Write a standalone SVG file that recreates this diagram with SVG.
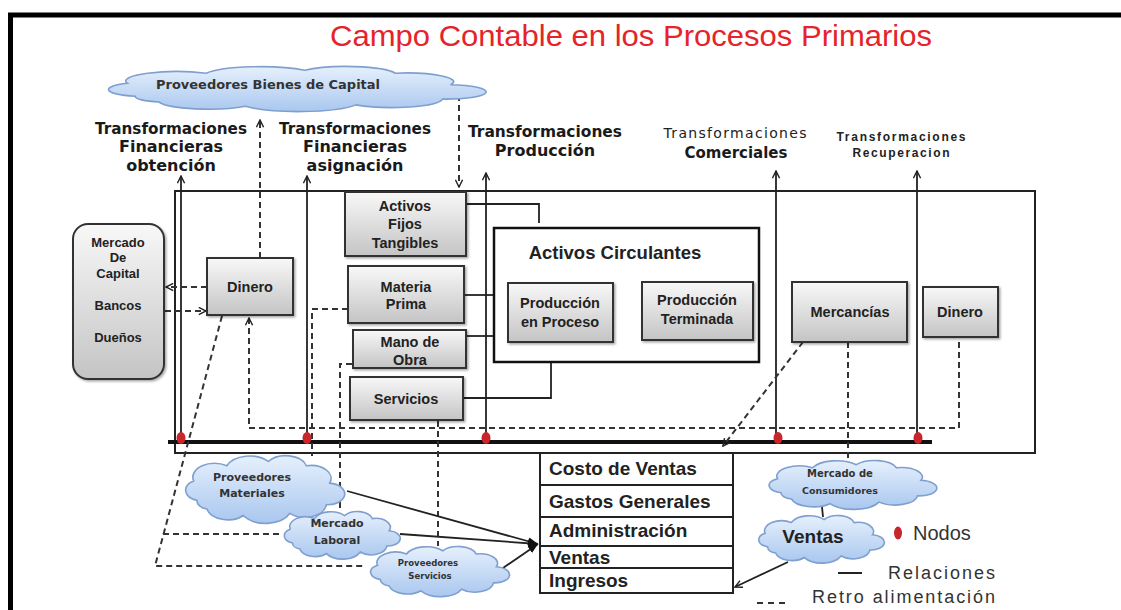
<svg xmlns="http://www.w3.org/2000/svg" xmlns:xlink="http://www.w3.org/1999/xlink" width="1121" height="610" viewBox="0 0 1121 610">
<style>
.frame{fill:none;stroke:#000;stroke-width:5}
.box{fill:url(#gBox);stroke:#333;stroke-width:2;filter:url(#sh)}
.cloud{fill:url(#gCloud);stroke:#7f9fcf;stroke-width:1.6}
.sol{fill:none;stroke:#222;stroke-width:1.8}
.dash{fill:none;stroke:#333;stroke-width:2;stroke-dasharray:6 4}
.node{fill:#c8262b}
.bl{font-family:"Liberation Sans",Arial,sans-serif;font-weight:bold;font-size:14.5px;fill:#222;text-anchor:middle}
.hd{font-family:"DejaVu Sans",Verdana,sans-serif;font-weight:bold;font-size:16px;fill:#1a1a1a;text-anchor:middle}
.cl{font-family:"DejaVu Sans",Verdana,sans-serif;font-weight:bold;font-size:11px;fill:#333;text-anchor:middle}
.tb{font-family:"Liberation Sans",Arial,sans-serif;font-weight:bold;font-size:19px;fill:#222}
.lg{font-family:"Liberation Sans",Arial,sans-serif;font-size:18px;fill:#333}
</style>
<defs>
<linearGradient id="gBox" x1="0" y1="0" x2="0" y2="1"><stop offset="0" stop-color="#f8f8f8"/><stop offset="1" stop-color="#c4c4c4"/></linearGradient>
<linearGradient id="gCloud" x1="0" y1="0" x2="0" y2="1"><stop offset="0" stop-color="#e6f0fc"/><stop offset="1" stop-color="#a9c7ef"/></linearGradient>
<filter id="sh" x="-10%" y="-10%" width="130%" height="130%"><feDropShadow dx="1.5" dy="1.5" stdDeviation="1" flood-opacity="0.35"/></filter>
<path id="cloudShape" vector-effect="non-scaling-stroke" d="M12,42 A10,10 0 0 1 10,24 A13,13 0 0 1 30,10 A15,15 0 0 1 55,6 A13,13 0 0 1 78,10 A12,12 0 0 1 92,26 A10,10 0 0 1 90,46 A13,13 0 0 1 68,54 A16,16 0 0 1 40,56 A13,13 0 0 1 18,50 A8,8 0 0 1 12,42 Z"/>
<marker id="arr" viewBox="0 0 10 10" refX="9" refY="5" markerWidth="9" markerHeight="9" markerUnits="userSpaceOnUse" orient="auto"><path d="M1,1 L9,5 L1,9" fill="none" stroke="#222" stroke-width="1.6"/></marker>
<marker id="arrF" viewBox="0 0 10 10" refX="10" refY="5" markerWidth="10" markerHeight="10" markerUnits="userSpaceOnUse" orient="auto"><path d="M0,1 L10,5 L0,9 Z" fill="#111"/></marker>
</defs>

<rect width="1121" height="610" fill="#fff"/>
<path class="frame" d="M10.5,615 V15 H1125"/>
<text x="631" y="46" font-family="'Liberation Sans',Arial,sans-serif" font-size="29" fill="#e5232a" text-anchor="middle" textLength="602" lengthAdjust="spacingAndGlyphs">Campo Contable en los Procesos Primarios</text>

<g id="labels">
<text class="hd" x="171" y="134" textLength="152" lengthAdjust="spacingAndGlyphs">Transformaciones</text>
<text class="hd" x="171" y="152">Financieras</text>
<text class="hd" x="171" y="171">obtención</text>
<text class="hd" x="355" y="134" textLength="152" lengthAdjust="spacingAndGlyphs">Transformaciones</text>
<text class="hd" x="355" y="152">Financieras</text>
<text class="hd" x="355" y="171">asignación</text>
<text class="hd" x="545" y="137" textLength="154" lengthAdjust="spacingAndGlyphs">Transformaciones</text>
<text class="hd" x="545" y="156">Producción</text>
<text x="735" y="138" font-family="'DejaVu Sans',Verdana,sans-serif" font-size="14" fill="#222" text-anchor="middle" textLength="143" lengthAdjust="spacing">Transformaciones</text>
<text class="hd" x="736" y="158" style="font-size:15px">Comerciales</text>
<text x="901" y="141" font-family="'Liberation Sans',Arial,sans-serif" font-weight="bold" font-size="12" fill="#222" text-anchor="middle" textLength="129" lengthAdjust="spacing">Transformaciones</text>
<text x="901" y="157" font-family="'Liberation Sans',Arial,sans-serif" font-weight="bold" font-size="12" fill="#222" text-anchor="middle" textLength="97" lengthAdjust="spacing">Recuperacion</text>
</g>

<g id="main-frame">
<rect x="175" y="191" width="860" height="262" fill="none" stroke="#222" stroke-width="2"/>
</g>

<g id="connectors">
<line x1="168" y1="442" x2="932" y2="442" stroke="#111" stroke-width="4"/>
<line class="sol" x1="181" y1="442" x2="181" y2="176" marker-end="url(#arr)"/>
<line class="sol" x1="307" y1="442" x2="307" y2="176" marker-end="url(#arr)"/>
<line class="sol" x1="486" y1="442" x2="486" y2="173" marker-end="url(#arr)"/>
<line class="sol" x1="776" y1="442" x2="776" y2="171" marker-end="url(#arr)"/>
<line class="sol" x1="917" y1="442" x2="917" y2="171" marker-end="url(#arr)"/>

<polyline class="sol" points="466,204 539,204 539,223"/>
<line class="sol" x1="464" y1="295" x2="494" y2="295"/>
<line class="sol" x1="466" y1="336" x2="494" y2="336"/>
<polyline class="sol" points="463,398 551,398 551,362"/>
<line class="sol" x1="613" y1="313" x2="642" y2="312"/>

<line class="dash" x1="260" y1="258" x2="260" y2="120" marker-end="url(#arr)"/>
<line class="dash" x1="459" y1="95" x2="459" y2="187" marker-end="url(#arr)"/>
<line class="dash" x1="207" y1="287" x2="166" y2="287" marker-end="url(#arr)"/>
<line class="dash" x1="165" y1="311" x2="206" y2="311" marker-end="url(#arr)"/>
<polyline class="dash" points="222,316 155,566 365,566"/>
<line class="dash" x1="163" y1="534" x2="280" y2="534"/>
<polyline class="dash" points="959,342 959,428 249,428 249,318" marker-end="url(#arr)"/>
<polyline class="dash" points="348,309 312,309 312,456"/>
<polyline class="dash" points="352,364 340,364 340,512"/>
<line class="dash" x1="438" y1="421" x2="438" y2="546"/>
<line class="dash" x1="848" y1="342" x2="848" y2="462"/>
<line class="dash" x1="803" y1="342" x2="723" y2="446" marker-end="url(#arr)"/>

<line class="sol" x1="347" y1="491" x2="538" y2="544" marker-end="url(#arrF)"/>
<line class="sol" x1="400" y1="534" x2="538" y2="544" marker-end="url(#arrF)"/>
<line class="sol" x1="503" y1="568" x2="538" y2="544" marker-end="url(#arrF)"/>
<line class="sol" x1="788" y1="562" x2="735" y2="587" marker-end="url(#arr)"/>
<line class="sol" x1="822" y1="507" x2="823" y2="517"/>
</g>

<g id="node-dots">
<ellipse class="node" cx="181" cy="438" rx="4.5" ry="6"/>
<ellipse class="node" cx="307" cy="438" rx="4.5" ry="6"/>
<ellipse class="node" cx="486" cy="438" rx="4.5" ry="6"/>
<ellipse class="node" cx="778" cy="438" rx="4.5" ry="6"/>
<ellipse class="node" cx="918" cy="438" rx="4.5" ry="6"/>
</g>

<g id="cloud-bienes-capital">
<use href="#cloudShape" class="cloud" transform="translate(88,66) scale(3.94,0.72)"/>
<text class="cl" x="268" y="89" style="font-size:12.5px" textLength="224" lengthAdjust="spacingAndGlyphs">Proveedores Bienes de Capital</text>
</g>

<g id="mercado-capital">
<rect x="73" y="224" width="91" height="155" rx="15" class="box"/>
<text class="bl" x="118" y="247" style="font-size:13px">Mercado</text>
<text class="bl" x="118" y="262" style="font-size:13px">De</text>
<text class="bl" x="118" y="278" style="font-size:13px">Capital</text>
<text class="bl" x="118" y="310" style="font-size:13px">Bancos</text>
<text class="bl" x="118" y="342" style="font-size:13px">Dueños</text>
</g>

<g id="dinero-1">
<rect x="207" y="258" width="86" height="57" class="box"/>
<text class="bl" x="250" y="292">Dinero</text>
</g>

<g id="activos-fijos">
<rect x="345" y="192" width="121" height="64" class="box"/>
<text class="bl" x="405" y="211">Activos</text>
<text class="bl" x="405" y="229">Fijos</text>
<text class="bl" x="405" y="248">Tangibles</text>
</g>

<g id="materia-prima">
<rect x="348" y="266" width="116" height="57" class="box"/>
<text class="bl" x="406" y="292">Materia</text>
<text class="bl" x="406" y="309">Prima</text>
</g>

<g id="mano-obra">
<rect x="353" y="330" width="113" height="38" class="box"/>
<text class="bl" x="410" y="347">Mano de</text>
<text class="bl" x="410" y="365">Obra</text>
</g>

<g id="servicios">
<rect x="350" y="377" width="113" height="43" class="box"/>
<text class="bl" x="406" y="404">Servicios</text>
</g>

<g id="activos-circulantes">
<rect x="494" y="228" width="265" height="134" fill="#fff" stroke="#111" stroke-width="2.5"/>
<text x="615" y="259" font-family="'Liberation Sans',Arial,sans-serif" font-weight="bold" font-size="18.5" fill="#222" text-anchor="middle">Activos Circulantes</text>
</g>

<g id="produccion-proceso">
<rect x="508" y="283" width="105" height="59" class="box"/>
<text class="bl" x="560" y="308">Producción</text>
<text class="bl" x="560" y="327">en Proceso</text>
</g>

<g id="produccion-terminada">
<rect x="642" y="282" width="111" height="58" class="box"/>
<text class="bl" x="697" y="305">Producción</text>
<text class="bl" x="697" y="324">Terminada</text>
</g>

<g id="mercancias">
<rect x="792" y="282" width="115" height="60" class="box"/>
<text class="bl" x="850" y="317">Mercancías</text>
</g>

<g id="dinero-2">
<rect x="923" y="287" width="75" height="50" class="box"/>
<text class="bl" x="960" y="317">Dinero</text>
</g>

<g id="cloud-proveedores-materiales">
<use href="#cloudShape" class="cloud" transform="translate(177,455) scale(1.66,1.08)"/>
<text class="cl" x="252" y="481">Proveedores</text>
<text class="cl" x="252" y="497">Materiales</text>
</g>

<g id="cloud-mercado-laboral">
<use href="#cloudShape" class="cloud" transform="translate(278,511) scale(1.21,0.76)"/>
<text class="cl" x="337" y="527">Mercado</text>
<text class="cl" x="337" y="544">Laboral</text>
</g>

<g id="cloud-proveedores-servicios">
<use href="#cloudShape" class="cloud" transform="translate(363,546) scale(1.45,0.8)"/>
<text class="cl" x="428" y="566" style="font-size:8.5px">Proveedores</text>
<text class="cl" x="430" y="579" style="font-size:8.5px">Servicios</text>
</g>

<g id="estado-resultados">
<rect x="540" y="453" width="193" height="140" fill="#fff" stroke="#222" stroke-width="2"/>
<line x1="540" y1="485" x2="733" y2="485" stroke="#222" stroke-width="2"/>
<line x1="540" y1="517" x2="733" y2="517" stroke="#222" stroke-width="2"/>
<line x1="540" y1="546" x2="733" y2="546" stroke="#222" stroke-width="2"/>
<line x1="540" y1="568" x2="733" y2="568" stroke="#222" stroke-width="2"/>
<text class="tb" x="549" y="475">Costo de Ventas</text>
<text class="tb" x="549" y="508">Gastos Generales</text>
<text class="tb" x="549" y="537">Administración</text>
<text class="tb" x="549" y="564">Ventas</text>
<text class="tb" x="549" y="587">Ingresos</text>
</g>

<g id="cloud-mercado-consumidores">
<use href="#cloudShape" class="cloud" transform="translate(760,460) scale(1.75,0.78)"/>
<text class="cl" x="840" y="477" style="font-size:10px">Mercado de</text>
<text class="cl" x="840" y="494" style="font-size:9.5px">Consumidores</text>
</g>

<g id="cloud-ventas">
<use href="#cloudShape" class="cloud" transform="translate(752,515) scale(1.31,0.76)"/>
<text x="813" y="543" font-family="'Liberation Sans',Arial,sans-serif" font-weight="bold" font-size="19" fill="#222" text-anchor="middle">Ventas</text>
</g>

<g id="legend">
<ellipse class="node" cx="898" cy="533" rx="4" ry="6.5"/>
<text class="lg" x="913" y="540" style="font-size:20px">Nodos</text>
<line x1="838" y1="573" x2="862" y2="573" stroke="#222" stroke-width="2"/>
<text class="lg" x="888" y="579" textLength="107" lengthAdjust="spacing">Relaciones</text>
<line class="dash" x1="757" y1="603" x2="790" y2="603" style="stroke-dasharray:6 5"/>
<text class="lg" x="812" y="603" textLength="183" lengthAdjust="spacing">Retro alimentación</text>
</g>
</svg>
